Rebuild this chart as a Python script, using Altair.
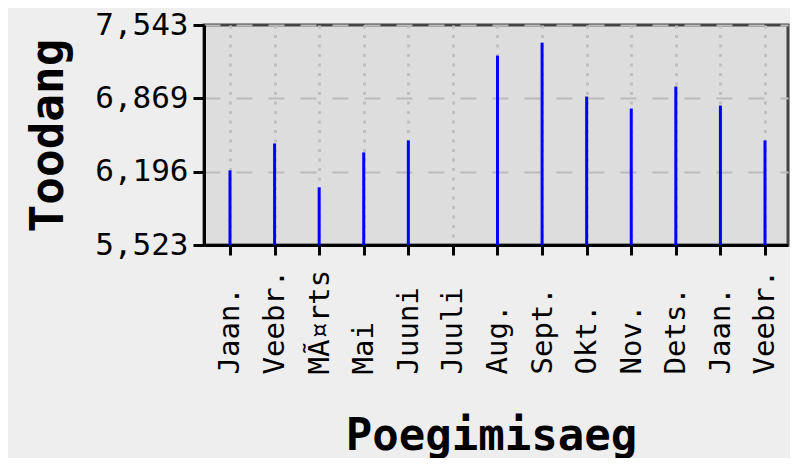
import json
import altair as alt
import pandas as pd

# ---- data ----
MONTHS = ["Jaan.", "Veebr.", "MÃ¤rts", "Mai", "Juuni", "Juuli", "Aug.",
          "Sept.", "Okt.", "Nov.", "Dets.", "Jaan.", "Veebr."]
VALUES = [6208, 6455, 6052, 6373, 6483, None, 7262,
          7381, 6886, 6776, 6978, 6803, 6483]
Y_TICKS = [5523, 6196, 6869, 7543]
Y_MIN, Y_MAX = 5523, 7543

df = pd.DataFrame({"idx": list(range(len(MONTHS))), "month": MONTHS, "value": VALUES})
df["base"] = Y_MIN
bars_df = df.dropna(subset=["value"])

label_expr = json.dumps(MONTHS, ensure_ascii=False) + "[datum.value]"
PAD_L, PAD_R = 0.583, 0.516

x_axis = alt.Axis(
    values=list(range(len(MONTHS))),
    labelExpr=label_expr,
    labelAngle=270,
    labelAlign="left",
    labelBaseline="middle",
    labelFont="DejaVu Sans Mono",
    labelFontSize=29,
    labelColor="black",
    labelPadding=119,
    labelOverlap=False,
    labelFlush=False,
    tickSize=10,
    tickWidth=3,
    tickColor="black",
    domainColor="black",
    domainWidth=3,
    grid=True,
    gridColor="#c0c0c0",
    gridWidth=3,
    gridDash=[3, 6.5],
    title="Poegimisaeg",
    titleFont="DejaVu Sans Mono",
    titleFontSize=44,
    titleFontWeight="bold",
    titleColor="black",
    titleX=287,
    titleY=204,
    titleAlign="center",
    titleBaseline="alphabetic",
)

y_axis = alt.Axis(
    values=Y_TICKS,
    format=",d",
    labelFont="DejaVu Sans Mono",
    labelFontSize=31,
    labelColor="black",
    labelPadding=5,
    labelOverlap=False,
    labelFlush=False,
    tickSize=11,
    tickWidth=3,
    tickColor="black",
    domainColor="black",
    domainWidth=3,
    grid=True,
    gridColor="#bbbbbb",
    gridWidth=2,
    gridDash=[16, 16],
    title="Toodang",
    titleFont="DejaVu Sans Mono",
    titleFontSize=46,
    titleFontWeight="bold",
    titleColor="black",
    titleAngle=270,
    titleX=-142,
    titleY=110,
    titleAlign="center",
    titleBaseline="alphabetic",
)

chart = alt.Chart(bars_df).mark_rule(color="#0000ff", strokeWidth=3).encode(
    x=alt.X("idx:Q", axis=x_axis,
            scale=alt.Scale(domain=[-PAD_L, len(MONTHS) - 1 + PAD_R], nice=False, zero=False)),
    y=alt.Y("value:Q", axis=y_axis,
            scale=alt.Scale(domain=[Y_MIN, Y_MAX], nice=False, zero=False)),
    y2="base:Q",
).properties(
    width=584,
    height=220,
    autosize=alt.AutoSizeParams(type="none"),
    padding={"left": 196, "top": 17, "right": 2, "bottom": 213},
    background="#eeeeee",
).configure_view(
    fill="#dddddd",
    stroke="#444444",
    strokeWidth=3,
)

chart.save("out.html", embed_options={"renderer": "svg", "actions": False})
